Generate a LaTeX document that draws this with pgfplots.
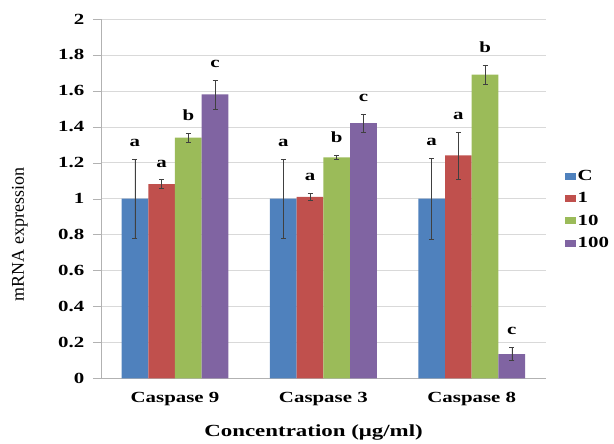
\documentclass[border=0pt]{standalone}
\usepackage{fontspec}
\setmainfont[FakeStretch=1.35]{Liberation Serif}
\newfontfamily\ylabfont{Liberation Serif}
\usepackage{pgfplots}
\usepackage{pgfplotstable}
\pgfplotsset{compat=1.18}
\definecolor{cC}{HTML}{4F81BD}
\definecolor{cA}{HTML}{C0504D}
\definecolor{cB}{HTML}{9BBB59}
\definecolor{cD}{HTML}{8064A2}
\pgfplotstableread{
x y e l
0 1.00 0.22 a
1 1.00 0.22 a
2 1.00 0.225 a
}\tC
\pgfplotstableread{
x y e l
0 1.08 0.025 a
1 1.01 0.02 a
2 1.24 0.13 a
}\tA
\pgfplotstableread{
x y e l
0 1.34 0.025 b
1 1.23 0.013 b
2 1.69 0.054 b
}\tB
\pgfplotstableread{
x y e l
0 1.58 0.08 c
1 1.42 0.05 c
2 0.135 0.036 c
}\tD
\begin{document}
\begin{tikzpicture}
\begin{axis}[name=ax,
  scale only axis, width=446pt, height=360pt,
  ymin=0, ymax=2, ytick={0,0.2,...,2.01},
  xmin=-0.5, xmax=2.5, xtick={0,1,2},
  xticklabels={Caspase 9,Caspase 3,Caspase 8},
  x tick style={draw=none},
  extra x ticks={-0.5,0.5,1.5,2.5}, extra x tick labels={},
  extra x tick style={grid=none, tick style={draw=gray!60}, major tick length=6pt},
  ybar=0pt, bar width=0.18,
  axis x line*=bottom, axis y line*=left,
  axis line style={gray!60, -},
  tick align=outside, major tick length=8pt,
  y tick style={gray!60},
  ymajorgrids, grid style={gray!30},
  /pgf/number format/assume math mode=true,
  yticklabel style={font=\fontsize{15.5}{18}\selectfont\bfseries, xshift=-5pt},
  xticklabel style={font=\fontsize{15.5}{18}\selectfont\bfseries, yshift=-2pt},
  xlabel={Concentration (μg/ml)},
  xlabel style={font=\fontsize{17}{20}\selectfont\bfseries, at={(axis description cs:0.478,-0.161)}, anchor=base},
  ylabel={mRNA expression},
  ylabel style={font=\fontsize{18}{20}\selectfont\ylabfont, at={(axis description cs:-0.182,0.4)}, anchor=center, rotate=0},
  legend style={at={(1.035,0.59)}, anchor=north west, draw=none, fill=none,
    font=\fontsize{15.5}{17}\selectfont\bfseries, row sep=6.5pt,
    legend cell align=left},
  legend image code/.code={\fill[#1,draw=none] (0pt,-3.5pt) rectangle (11pt,3.5pt);},
  point meta=explicit symbolic,
  nodes near coords,
  visualization depends on={\thisrow{e} \as \err},
  nodes near coords style={anchor=south, font=\fontsize{15.5}{17}\selectfont\bfseries, yshift=\err*180pt+9pt},
  error bars/y dir=both, error bars/y explicit,
  error bars/error bar style={black!75, line width=0.5pt},
  error bars/error mark options={rotate=90, mark size=2.5pt, black!75, line width=0.5pt},
]
\addplot[fill=cC, draw=none] table[x=x, y=y, y error=e, meta=l] {\tC};
\addplot[fill=cA, draw=none] table[x=x, y=y, y error=e, meta=l] {\tA};
\addplot[fill=cB, draw=none] table[x=x, y=y, y error=e, meta=l] {\tB};
\addplot[fill=cD, draw=none] table[x=x, y=y, y error=e, meta=l] {\tD};
\legend{C,1,10,100}
\end{axis}
\path (ax.south west) +(-101pt,-62pt) (ax.north east) +(67pt,19pt);
\end{tikzpicture}
\end{document}
